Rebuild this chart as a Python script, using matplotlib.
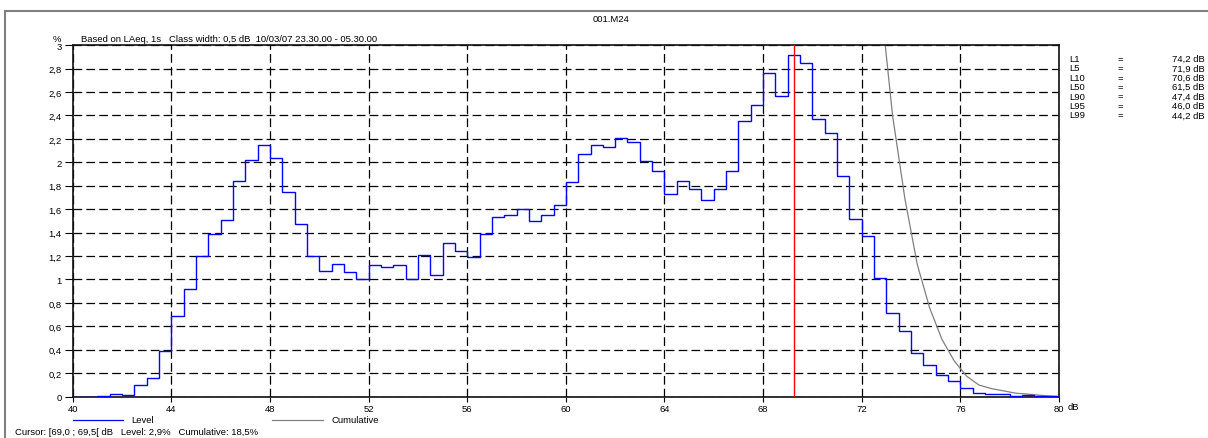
import matplotlib.pyplot as plt
import numpy as np
from matplotlib.lines import Line2D

plt.rcParams['font.family'] = ['Liberation Sans', 'DejaVu Sans']
plt.rcParams['font.size'] = 6.8

# klasy 0,5 dB od 40 do 80 dB
edges = np.arange(40, 80.5, 0.5)
level = [0, 0, 0.003, 0.02, 0.01, 0.10, 0.16, 0.39,
         0.69, 0.92, 1.20, 1.39, 1.51, 1.84, 2.02, 2.15,
         2.04, 1.75, 1.47, 1.20, 1.07, 1.13, 1.06, 1.00,
         1.12, 1.11, 1.12, 1.00, 1.21, 1.04, 1.31, 1.24,
         1.19, 1.39, 1.53, 1.55, 1.60, 1.50, 1.55, 1.64,
         1.83, 2.07, 2.15, 2.13, 2.21, 2.17, 2.01, 1.93,
         1.73, 1.84, 1.77, 1.68, 1.77, 1.93, 2.35, 2.49,
         2.76, 2.57, 2.92, 2.85, 2.37, 2.25, 1.88, 1.52,
         1.37, 1.01, 0.71, 0.56, 0.37, 0.27, 0.185, 0.13,
         0.076, 0.03, 0.02, 0.02, 0.008, 0.01, 0.008, 0.003]

# cumulative (percent above) at class centres, only the visible tail
cum_db = [70.25, 70.75, 71.25, 71.75, 72.25, 72.75, 73.25, 73.75, 74.25,
          74.75, 75.25, 75.75, 76.25, 76.75, 77.25, 77.75, 78.25, 78.75,
          79.25, 79.75, 80.0]
cum = [12.80, 10.43, 8.18, 6.30, 4.78, 3.41, 2.40, 1.69, 1.13,
       0.76, 0.49, 0.305, 0.175, 0.099, 0.069, 0.049, 0.029, 0.021,
       0.011, 0.003, 0.0]

cursor_db = 69.25

x_ticks = [40, 44, 48, 52, 56, 60, 64, 68, 72, 76, 80]
y_ticks = [0, 0.2, 0.4, 0.6, 0.8, 1, 1.2, 1.4, 1.6, 1.8, 2, 2.2, 2.4, 2.6, 2.8, 3]
y_labels = ['0', '0,2', '0,4', '0,6', '0,8', '1', '1,2', '1,4', '1,6', '1,8',
            '2', '2,2', '2,4', '2,6', '2,8', '3']

l_names = ['L1', 'L5', 'L10', 'L50', 'L90', 'L95', 'L99']
l_values = ['74,2 dB', '71,9 dB', '70,6 dB', '61,5 dB', '47,4 dB', '46,0 dB', '44,2 dB']

W, H = 1208, 439


def fx(px):
    return px / W


def fy(py):
    return 1 - py / H


fig = plt.figure(figsize=(W / 100, H / 100), dpi=100)
ax = fig.add_axes([fx(72.7), fy(397.6), (1059 - 72.7) / W, (397.6 - 46.2) / H])

ax.grid(True, color='black', linestyle=(0, (7, 3.3)), linewidth=0.9, zorder=1)
ax.stairs(level, edges, color='#0000ff', linewidth=1.0, zorder=3)
ax.plot(cum_db, cum, color='#808080', linewidth=0.9, zorder=2)
ax.axvline(cursor_db, color='#ff0000', linewidth=1.0, zorder=4)

ax.set_xlim(40, 80)
ax.set_ylim(0, 3)
ax.set_xticks(x_ticks)
ax.set_yticks(y_ticks, y_labels)
ax.tick_params(axis='x', direction='out', length=3.5, width=0.8, pad=1.5)
ax.tick_params(axis='y', direction='out', length=5.5, width=0.8, pad=2.5)
ax.set_axisbelow(True)
for s in ax.spines.values():
    s.set_color('#101010')
    s.set_linewidth(1.2)

# ramka
fig.add_artist(Line2D([fx(5), 1], [fy(12), fy(12)], color='#808080', lw=1.5))
fig.add_artist(Line2D([fx(5), fx(5)], [fy(12), 0], color='#808080', lw=1.5))

fig.text(fx(611), fy(19), '001.M24', ha='center', va='center')
fig.text(fx(57), fy(40), '%', ha='center', va='center')
fig.text(fx(81), fy(40), 'Based on LAeq, 1s   Class width: 0,5 dB  10/03/07 23.30.00 - 05.30.00',
         ha='left', va='center')
fig.text(fx(1068), fy(407.7), 'dB', ha='left', va='center')

for i in range(len(l_names)):
    yy = fy(59.5 + i * 9.4)
    fig.text(fx(1069), yy, l_names[i], ha='left', va='center')
    fig.text(fx(1120), yy, '=', ha='center', va='center')
    fig.text(fx(1205), yy, l_values[i], ha='right', va='center')

# legenda
fig.add_artist(Line2D([fx(72.7), fx(123)], [fy(420.7), fy(420.7)], color='#0000ff', lw=0.9))
fig.text(fx(131), fy(420.7), 'Level', ha='left', va='center')
fig.add_artist(Line2D([fx(272), fx(323)], [fy(420.7), fy(420.7)], color='#808080', lw=0.9))
fig.text(fx(331), fy(420.7), 'Cumulative', ha='left', va='center')

fig.text(fx(15), fy(433), 'Cursor: [69,0 ; 69,5[ dB   Level: 2,9%   Cumulative: 18,5%',
         ha='left', va='center')

fig.savefig('out.png', dpi=100)
